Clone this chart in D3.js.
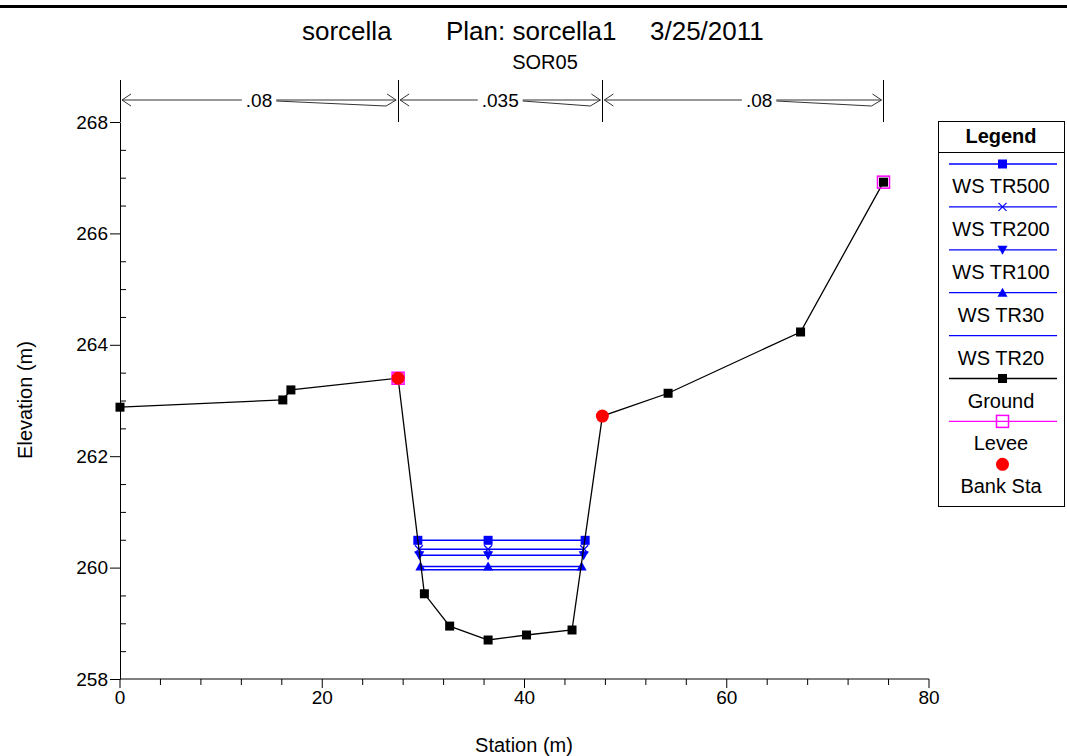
<!DOCTYPE html>
<html><head><meta charset="utf-8">
<script src="https://cdn.jsdelivr.net/npm/d3@7"></script>
<style>body{margin:0;background:#fff}svg{display:block}text{font-family:"Liberation Sans",Arial,sans-serif}</style>
</head><body>
<svg id="c" width="1067" height="756"></svg>
<script>
// ---- data ----
const groundSta  = [0, 16.1, 16.9, 27.5, 30.1, 32.6, 36.4, 40.2, 44.7, 47.7, 54.2, 67.3, 75.5];
const groundElev = [262.88, 263.01, 263.19, 263.40, 259.53, 258.95, 258.70, 258.79, 258.88, 262.72, 263.13, 264.23, 266.92];
const wsNames  = ["WS TR500", "WS TR200", "WS TR100", "WS TR30", "WS TR20"];
const wsElev   = [260.49, 260.33, 260.22, 260.02, 259.96];
const wsLeft   = [29.45, 29.55, 29.6, 29.7, 29.75];
const wsMid    = [36.4, 36.4, 36.4, 36.4, 36.4];
const wsRight  = [46.0, 45.9, 45.85, 45.65, 45.6];
const wsMarker = ["square", "cross", "down", "up", "none"];
const leveeSta = [27.5, 75.5];
const leveeElev = [263.40, 266.92];
const bankSta  = [27.5, 47.7];
const bankElev = [263.40, 262.72];
const nSta     = [0, 27.5, 47.7, 75.5];
const nVals    = [".08", ".035", ".08"];
const nLabelSta = [13.75, 37.6, 63.2];
const xTicks   = [0, 20, 40, 60, 80];
const yTicks   = [258, 260, 262, 264, 266, 268];
const legendItems = ["WS TR500", "WS TR200", "WS TR100", "WS TR30", "WS TR20", "Ground", "Levee", "Bank Sta"];

const svg = d3.select("#c");
const FF = '"Liberation Sans", Arial, sans-serif';
const x = d3.scaleLinear().domain([0, 80]).range([120, 929]);
const y = d3.scaleLinear().domain([258, 268]).range([679, 122]);

// top border
svg.append("rect").attr("x", 0).attr("y", 5).attr("width", 1067).attr("height", 3).attr("fill", "#000");

// titles
const t = svg.append("text").attr("y", 40).attr("font-size", 26).attr("fill", "#000");
t.append("tspan").attr("x", 302).text("sorcella");
t.append("tspan").attr("x", 446).text("Plan: sorcella1");
t.append("tspan").attr("x", 650).text("3/25/2011");
svg.append("text").attr("x", 545).attr("y", 69).attr("text-anchor", "middle").attr("font-size", 20).text("SOR05");

// axes
const yAxis = svg.append("g").attr("transform", "translate(120,0)")
  .call(d3.axisLeft(y).tickValues(yTicks).tickSize(10).tickSizeOuter(0).tickPadding(2).tickFormat(d3.format("d")));
const yMinor = svg.append("g").attr("transform", "translate(120,0)")
  .call(d3.axisRight(y).tickValues(d3.range(258, 268.01, 0.5).filter(v => v % 2 !== 0)).tickSize(6).tickFormat(""));
yMinor.select(".domain").remove();
const xAxis = svg.append("g").attr("transform", "translate(0,679)")
  .call(d3.axisBottom(x).tickValues(xTicks).tickSize(9).tickSizeOuter(0).tickPadding(3).offset(0));
const xMinor = svg.append("g").attr("transform", "translate(0,679)")
  .call(d3.axisBottom(x).tickValues(d3.range(0, 80.01, 4).filter(v => v % 20 !== 0)).tickSize(6).tickFormat("").offset(0));
xMinor.select(".domain").remove();
svg.selectAll(".tick text").attr("font-size", 19).attr("font-family", FF).attr("fill", "#000");
svg.selectAll(".domain, .tick line").attr("stroke", "#000");

// axis titles
svg.append("text").attr("x", 524).attr("y", 752).attr("text-anchor", "middle").attr("font-size", 20).text("Station (m)");
svg.append("text").attr("transform", "translate(32,400) rotate(-90)").attr("text-anchor", "middle").attr("font-size", 20).text("Elevation (m)");

// n-values
const nY = 100;
const ng = svg.append("g");
nSta.forEach(s => {
  ng.append("line").attr("x1", Math.round(x(s)) + 0.5).attr("x2", Math.round(x(s)) + 0.5)
    .attr("y1", 80).attr("y2", y(268)).attr("stroke", "#000").attr("stroke-width", 1);
});
nVals.forEach((v, i) => {
  const x0 = x(nSta[i]) + 2, x1 = x(nSta[i + 1]) - 2, xc = x(nLabelSta[i]);
  const txt = ng.append("text").attr("x", xc).attr("y", nY + 7).attr("text-anchor", "middle").attr("font-size", 19).text(v);
  const w = txt.node().getComputedTextLength();
  const ls = xc - w / 2 - 4, re = xc + w / 2 + 4;
  ng.append("path").attr("fill", "none").attr("stroke", "#333").attr("stroke-width", 1)
    .attr("d", `M${x0},${nY}L${ls},${nY}M${x0 + 9},${nY - 6}L${x0},${nY}L${x0 + 9},${nY + 6}`);
  ng.append("path").attr("fill", "none").attr("stroke", "#333").attr("stroke-width", 1)
    .attr("d", `M${re},${nY}L${x1},${nY}M${re},${nY + 1}L${x1 - 10},${nY + 6}L${x1},${nY}M${x1 - 9},${nY - 6}L${x1},${nY}`);
});

// marker helper
function marker(g, type, cx, cy, color, size) {
  const s = size / 2;
  if (type === "square") g.append("rect").attr("x", cx - s).attr("y", cy - s).attr("width", size).attr("height", size).attr("fill", color);
  else if (type === "cross") g.append("path").attr("d", `M${cx - 4},${cy - 4}L${cx + 4},${cy + 4}M${cx - 4},${cy + 4}L${cx + 4},${cy - 4}`).attr("stroke", color).attr("stroke-width", 1.2).attr("fill", "none");
  else if (type === "down") g.append("path").attr("d", `M${cx - 5},${cy - 4}L${cx + 5},${cy - 4}L${cx},${cy + 5}Z`).attr("fill", color);
  else if (type === "up") g.append("path").attr("d", `M${cx - 5},${cy + 4}L${cx + 5},${cy + 4}L${cx},${cy - 5}Z`).attr("fill", color);
  else if (type === "levee") g.append("rect").attr("x", cx - 6).attr("y", cy - 6).attr("width", 12).attr("height", 12).attr("fill", "none").attr("stroke", "#ff00ff").attr("stroke-width", 1.5);
  else if (type === "circle") g.append("circle").attr("cx", cx).attr("cy", cy).attr("r", 6.5).attr("fill", color);
}

// water surfaces
const wg = svg.append("g");
wsNames.forEach((n, i) => {
  wg.append("line").attr("x1", x(wsLeft[i])).attr("x2", x(wsRight[i])).attr("y1", y(wsElev[i])).attr("y2", y(wsElev[i]))
    .attr("stroke", "#0000ff").attr("stroke-width", 1.5);
});
wsNames.forEach((n, i) => {
  [wsLeft[i], wsMid[i], wsRight[i]].forEach(s => marker(wg, wsMarker[i], x(s), y(wsElev[i]), "#0000ff", 9));
});

// ground
const line = d3.line().x(d => x(d[0])).y(d => y(d[1]));
const gpts = groundSta.map((s, i) => [s, groundElev[i]]);
svg.append("path").datum(gpts).attr("d", line).attr("fill", "none").attr("stroke", "#000").attr("stroke-width", 1.3);
gpts.forEach(p => marker(svg, "square", x(p[0]), y(p[1]), "#000", 9));
leveeSta.forEach((s, i) => marker(svg, "levee", x(s), y(leveeElev[i]), "#ff00ff", 12));
bankSta.forEach((s, i) => marker(svg, "circle", x(s), y(bankElev[i]), "#ff0000", 13));

// legend
const lg = svg.append("g");
lg.append("rect").attr("x", 938.5).attr("y", 121.5).attr("width", 126).attr("height", 385).attr("fill", "#fff").attr("stroke", "#000");
lg.append("line").attr("x1", 938.5).attr("x2", 1064.5).attr("y1", 152.5).attr("y2", 152.5).attr("stroke", "#000");
lg.append("text").attr("x", 1001).attr("y", 143).attr("text-anchor", "middle").attr("font-size", 20).attr("font-weight", "bold").text("Legend");
const lcx = 1002.5;
legendItems.forEach((name, i) => {
  const ly = 164 + i * 42.9;
  if (i < 5) {
    lg.append("line").attr("x1", 949).attr("x2", 1057).attr("y1", ly).attr("y2", ly).attr("stroke", "#0000ff").attr("stroke-width", 1.3);
    marker(lg, wsMarker[i], lcx, ly, "#0000ff", 9);
  } else if (name === "Ground") {
    lg.append("line").attr("x1", 949).attr("x2", 1057).attr("y1", ly).attr("y2", ly).attr("stroke", "#000").attr("stroke-width", 1.3);
    marker(lg, "square", lcx, ly, "#000", 9);
  } else if (name === "Levee") {
    lg.append("line").attr("x1", 949).attr("x2", 1057).attr("y1", ly).attr("y2", ly).attr("stroke", "#ff00ff").attr("stroke-width", 1.3);
    marker(lg, "levee", lcx, ly, "#ff00ff", 12);
  } else {
    marker(lg, "circle", lcx, ly, "#ff0000", 13);
  }
  lg.append("text").attr("x", 1001).attr("y", ly + 29).attr("text-anchor", "middle").attr("font-size", 20).text(name);
});
</script>
</body></html>
